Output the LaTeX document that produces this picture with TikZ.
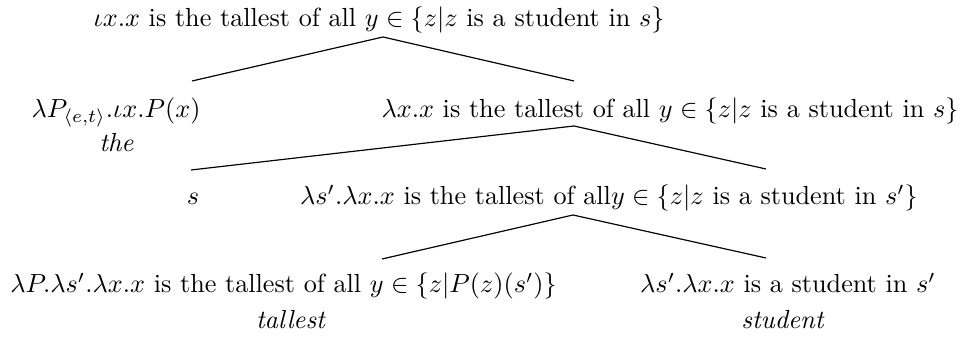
\documentclass[tikz,border=0pt]{standalone}
\begin{document}
\begin{tikzpicture}[x=0.382pt,y=-0.382pt,
  lbl/.style={anchor=base,inner sep=0pt},
  branch/.style={line width=0.45pt}]
\useasboundingbox (0,0) rectangle (967,337);
% row 1
\node[lbl] (root) at (379,27) {$\iota x.x$ is the tallest of all $y\in\{z|z$ is a student in $s\}$};
% row 2
\node[lbl] (the) at (116,118) {$\lambda P_{\langle e,t\rangle}.\iota x.P(x)$};
\node[lbl] (theW) at (116.5,152) {\textit{the}};
\node[lbl] (mid) at (670,118) {$\lambda x.x$ is the tallest of all $y\in\{z|z$ is a student in $s\}$};
% row 3
\node[lbl] (s) at (193,205) {$s$};
\node[lbl] (mid2) at (609,205) {$\lambda s'.\lambda x.x$ is the tallest of all$y\in\{z|z$ is a student in $s'\}$};
% row 4
\node[lbl] (tall) at (283.5,293) {$\lambda P.\lambda s'.\lambda x.x$ is the tallest of all $y\in\{z|P(z)(s')\}$};
\node[lbl] (tallW) at (291,329) {\textit{tallest}};
\node[lbl] (stud) at (788,293) {$\lambda s'.\lambda x.x$ is a student in $s'$};
\node[lbl] (studW) at (783,329) {\textit{student}};
% branch points
\coordinate (a1) at (383,37);
\coordinate (l1) at (192,81);
\coordinate (r1) at (574,81);
\coordinate (a2) at (574,126);
\coordinate (l2) at (191,170);
\coordinate (r2) at (766,169);
\coordinate (a3) at (573,215);
\coordinate (l3) at (382,259);
\coordinate (r3) at (766,258);
\draw[branch] (l1) -- (a1) -- (r1);
\draw[branch] (l2) -- (a2) -- (r2);
\draw[branch] (l3) -- (a3) -- (r3);
\end{tikzpicture}
\end{document}
